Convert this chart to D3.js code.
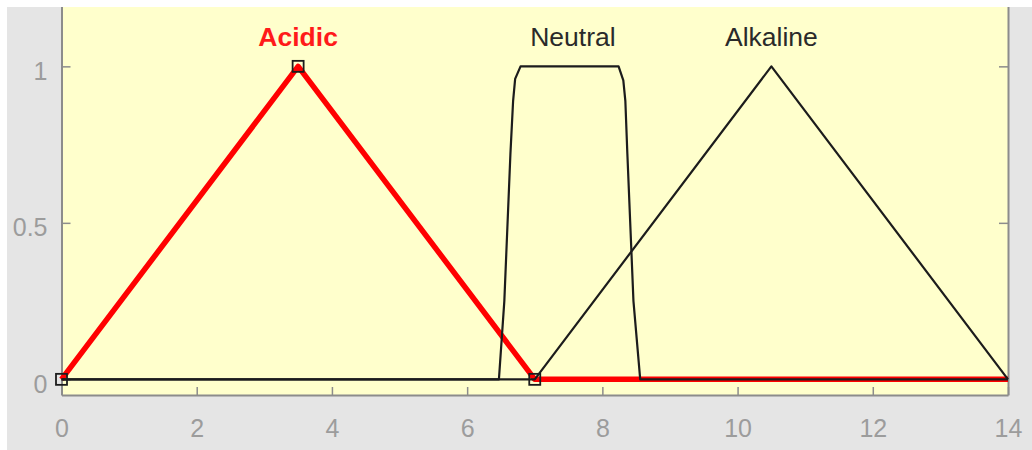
<!DOCTYPE html>
<html>
<head>
<meta charset="utf-8">
<script src="https://cdn.jsdelivr.net/npm/d3@7"></script>
<style>
  html, body { margin: 0; padding: 0; background: #ffffff; }
  svg { display: block; }
  text { font-family: "Liberation Sans", Arial, sans-serif; }
</style>
</head>
<body>
<svg id="chart" width="1032" height="450"></svg>
<script>
// Input variable range and ticks
const xDomain = [0, 14];
const yDomain = [-0.05, 1.2];
const xTicks = [0, 2, 4, 6, 8, 10, 12, 14];
const yTicks = [0, 0.5, 1];

// Membership functions over the pH range
const mfNames = ["Acidic", "Neutral", "Alkaline"];
const acidicX = [0, 0, 3.5, 7, 14];
const acidicY = [0, 0, 1, 0, 0];
const neutralX = [0, 6.47, 6.55, 6.64, 6.68, 6.71, 6.79, 8.24, 8.31, 8.34, 8.37, 8.46, 8.56, 14];
const neutralY = [0, 0, 0.25, 0.72, 0.89, 0.96, 1, 1, 0.955, 0.89, 0.72, 0.25, 0, 0];
const alkalineX = [0, 7, 10.5, 14];
const alkalineY = [0, 0, 1, 0];
// Vertices of the selected function (Acidic)
const selectedX = [0, 3.5, 7];
const selectedY = [0, 1, 0];

const svg = d3.select("#chart");
const W = 1032, H = 450;

const x = d3.scaleLinear().domain(xDomain).range([61.5, 1008]);
const y = d3.scaleLinear().domain(yDomain).range([395, 3.75]);

// figure background
svg.append("rect").attr("x", 7).attr("y", 7).attr("width", W - 7).attr("height", H - 7).attr("fill", "#e5e5e5");

// plot area
svg.append("rect")
  .attr("x", x(xDomain[0])).attr("y", 7)
  .attr("width", x(xDomain[1]) - x(xDomain[0]))
  .attr("height", y(yDomain[0]) - 7)
  .attr("fill", "#ffffcc");

const axisColor = "#8c8c8c";
const labelColor = "#9c9c9c";

const gx = svg.append("g").attr("transform", `translate(0,${y(yDomain[0])})`)
  .call(d3.axisBottom(x).tickValues(xTicks).tickSize(-8).tickSizeOuter(0).tickPadding(24).tickFormat(d3.format("d")));
const gy = svg.append("g").attr("transform", `translate(${x(xDomain[0])},0)`)
  .call(d3.axisLeft(y).tickValues(yTicks).tickSize(-9).tickSizeOuter(0).tickPadding(14).tickFormat(d => d));
const gr = svg.append("g").attr("transform", `translate(${x(xDomain[1])},0)`)
  .call(d3.axisRight(y).tickValues(yTicks).tickSize(-9).tickSizeOuter(0).tickFormat(""));

[gx, gy, gr].forEach(g => {
  g.select(".domain").attr("stroke", axisColor).attr("stroke-width", 2);
  g.selectAll(".tick line").attr("stroke", axisColor).attr("stroke-width", 1.5);
  g.selectAll(".tick text").attr("fill", labelColor).attr("font-size", 25)
    .attr("font-family", "Liberation Sans, Arial, sans-serif");
});
gy.selectAll(".tick text").attr("dy", "0.52em");

const line = d3.line().x(d => x(d[0])).y(d => y(d[1]));
const pts = (xs, ys) => xs.map((v, i) => [v, ys[i]]);

// selected function drawn first, thick red
svg.append("path").datum(pts(acidicX, acidicY))
  .attr("d", line).attr("fill", "none").attr("stroke", "#ff0000")
  .attr("stroke-width", 5.5).attr("stroke-linejoin", "round");

[pts(neutralX, neutralY), pts(alkalineX, alkalineY)].forEach(p => {
  svg.append("path").datum(p)
    .attr("d", line).attr("fill", "none").attr("stroke", "#1c1c1c")
    .attr("stroke-width", 2.2).attr("stroke-linejoin", "round");
});

// vertex markers
svg.selectAll("rect.marker").data(pts(selectedX, selectedY)).enter()
  .append("rect").attr("class", "marker")
  .attr("x", d => x(d[0]) - 5.5).attr("y", d => y(d[1]) - 5.5)
  .attr("width", 11).attr("height", 11)
  .attr("fill", "none").attr("stroke", "#1c1c1c").attr("stroke-width", 1.8);

// function names above each peak
const peakX = [3.5, (6.79 + 8.24) / 2 + 0.05, 10.5];
svg.selectAll("text.mf").data(mfNames).enter()
  .append("text").attr("class", "mf")
  .attr("x", (d, i) => x(peakX[i])).attr("y", 46)
  .attr("text-anchor", "middle").attr("font-size", 26.5)
  .attr("font-weight", (d, i) => i === 0 ? "bold" : "normal")
  .attr("fill", (d, i) => i === 0 ? "#ff1a1a" : "#2a2a2a")
  .text(d => d);

// top margin strip of the figure
svg.append("rect").attr("x", 0).attr("y", 0).attr("width", W).attr("height", 7).attr("fill", "#ffffff");
</script>
</body>
</html>
